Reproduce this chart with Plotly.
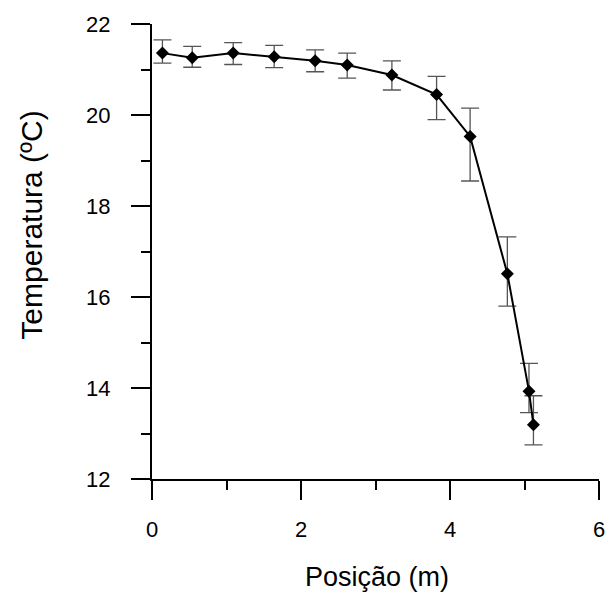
import plotly.graph_objects as go

posicao = [0.14, 0.54, 1.09, 1.64, 2.19, 2.62, 3.22, 3.82, 4.27, 4.77, 5.06, 5.12]
temperatura = [21.36, 21.26, 21.36, 21.28, 21.19, 21.10, 20.88, 20.45, 19.53, 16.51, 13.93, 13.19]
erro_sup = [0.29, 0.25, 0.23, 0.25, 0.24, 0.26, 0.31, 0.40, 0.62, 0.81, 0.61, 0.64]
erro_inf = [0.22, 0.21, 0.25, 0.24, 0.24, 0.29, 0.33, 0.55, 0.98, 0.71, 0.47, 0.44]

x_ticks = [0, 2, 4, 6]
y_ticks = [12, 14, 16, 18, 20, 22]

fig = go.Figure()
fig.add_trace(go.Scatter(
    x=posicao, y=temperatura,
    mode="lines+markers",
    line=dict(color="black", width=2),
    marker=dict(symbol="diamond", size=10, color="black"),
    error_y=dict(type="data", symmetric=False, array=erro_sup, arrayminus=erro_inf,
                 color="#555555", thickness=1.3, width=9),
    cliponaxis=False,
    showlegend=False,
))

font_family = "Liberation Sans, Arial, sans-serif"

fig.update_layout(
    width=612, height=592,
    margin=dict(l=152, r=7, t=24, b=113),
    paper_bgcolor="white", plot_bgcolor="white",
    font=dict(family=font_family, color="black", size=22),
    xaxis=dict(
        range=[0, 6], tickvals=x_ticks, ticks="outside", ticklen=19, tickwidth=2,
        tickcolor="black", showline=True, linecolor="black", linewidth=2,
        showgrid=False, zeroline=False, ticklabelstandoff=11,
        tickfont=dict(size=22),
        minor=dict(dtick=1, tick0=0, ticks="outside", ticklen=9, tickwidth=2, tickcolor="black", showgrid=False),
    ),
    yaxis=dict(
        range=[12, 22], tickvals=y_ticks, ticks="outside", ticklen=19, tickwidth=2,
        tickcolor="black", showline=True, linecolor="black", linewidth=2,
        showgrid=False, zeroline=False, ticklabelstandoff=16,
        tickfont=dict(size=22),
        minor=dict(dtick=1, tick0=0, ticks="outside", ticklen=9, tickwidth=2, tickcolor="black", showgrid=False),
    ),
    annotations=[
        dict(text="Posição (m)", xref="paper", yref="paper",
             x=(380 - 152) / 453, y=(479 - 577) / 455, xanchor="center", yanchor="middle",
             showarrow=False, font=dict(size=27)),
        dict(text="Temperatura (ºC)", xref="paper", yref="paper",
             x=(29 - 152) / 453, y=(479 - 225) / 455, xanchor="center", yanchor="middle",
             textangle=-90, showarrow=False, font=dict(size=30)),
    ],
)

fig.write_html("out.html", config={"displayModeBar": False},
               post_script="document.body.style.margin='0';document.body.style.overflow='hidden';")
